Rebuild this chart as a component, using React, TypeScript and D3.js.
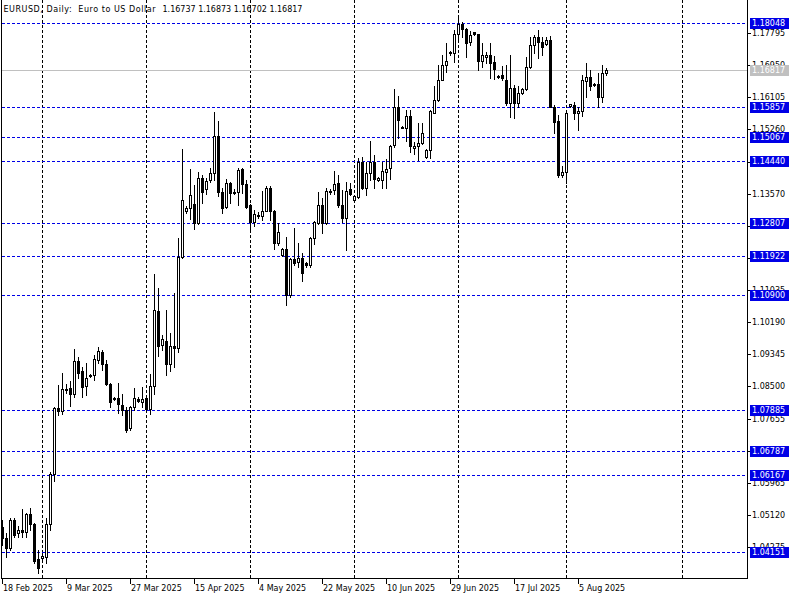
import React from "react";
import * as d3 from "d3";

const opens = [
  1.0480, 1.0451, 1.0425, 1.0499, 1.0464, 1.0472, 1.0466, 1.0514, 1.0488, 1.0396,
  1.0398, 1.0401, 1.0488, 1.0620, 1.0793, 1.0786, 1.0840, 1.0846, 1.0830, 1.0917,
  1.0891, 1.0851, 1.0878, 1.0880, 1.0920, 1.0941, 1.0909, 1.0857, 1.0817, 1.0820,
  1.0801, 1.0788, 1.0740, 1.0795, 1.0818, 1.0809, 1.0819, 1.0791, 1.0852, 1.1049,
  1.0960, 1.0970, 1.0910, 1.0955, 1.0950, 1.1191, 1.1310, 1.1319, 1.1329, 1.1280,
  1.1398, 1.1369, 1.1393, 1.1411, 1.1509, 1.1362, 1.1322, 1.1385, 1.1359, 1.1361,
  1.1422, 1.1382, 1.1327, 1.1283, 1.1298, 1.1298, 1.1311, 1.1372, 1.1311, 1.1227,
  1.1196, 1.1211, 1.1091, 1.1185, 1.1177, 1.1188, 1.1175, 1.1168, 1.1240, 1.1280,
  1.1327, 1.1280, 1.1360, 1.1366, 1.1384, 1.1327, 1.1292, 1.1369, 1.1339, 1.1348,
  1.1441, 1.1373, 1.1412, 1.1441, 1.1393, 1.1393, 1.1413, 1.1424, 1.1485, 1.1586,
  1.1532, 1.1529, 1.1560, 1.1478, 1.1481, 1.1491, 1.1454, 1.1471, 1.1570, 1.1602,
  1.1656, 1.1695, 1.1730, 1.1728, 1.1777, 1.1803, 1.1791, 1.1757, 1.1781, 1.1776,
  1.1707, 1.1716, 1.1722, 1.1703, 1.1667, 1.1669, 1.1656, 1.1596, 1.1634, 1.1595,
  1.1621, 1.1631, 1.1689, 1.1748, 1.1768, 1.1755, 1.1750, 1.1761, 1.1586, 1.1548,
  1.1406, 1.1415, 1.1588, 1.1590, 1.1568, 1.1574, 1.1654, 1.1665, 1.1643, 1.1645,
  1.1612, 1.16737,
];
const highs = [
  1.0499, 1.0464, 1.0505, 1.0505, 1.0483, 1.0528, 1.0517, 1.0530, 1.0490, 1.0420,
  1.0412, 1.0504, 1.0625, 1.0796, 1.0854, 1.0885, 1.0856, 1.0864, 1.0948, 1.0928,
  1.0901, 1.0912, 1.0882, 1.0933, 1.0954, 1.0946, 1.0920, 1.0860, 1.0823, 1.0859,
  1.0830, 1.0796, 1.0799, 1.0845, 1.0822, 1.0848, 1.0827, 1.0882, 1.1146, 1.1110,
  1.0985, 1.1050, 1.0990, 1.1096, 1.1241, 1.1474, 1.1325, 1.1421, 1.1380, 1.1414,
  1.1406, 1.1398, 1.1424, 1.1572, 1.1547, 1.1371, 1.1395, 1.1388, 1.1368, 1.1424,
  1.1424, 1.1393, 1.1330, 1.1314, 1.1308, 1.1364, 1.1377, 1.1377, 1.1313, 1.1280,
  1.1214, 1.1244, 1.1188, 1.1266, 1.1228, 1.1201, 1.1178, 1.1244, 1.1285, 1.1362,
  1.1345, 1.1372, 1.1370, 1.1417, 1.1406, 1.1366, 1.1388, 1.1384, 1.1353, 1.1450,
  1.1454, 1.1441, 1.1495, 1.1459, 1.1402, 1.1441, 1.1448, 1.1485, 1.1632, 1.1614,
  1.1536, 1.1577, 1.1577, 1.1493, 1.1542, 1.1542, 1.1474, 1.1577, 1.1641, 1.1696,
  1.1722, 1.1754, 1.1733, 1.1788, 1.1827, 1.1809, 1.1793, 1.1786, 1.1782, 1.1778,
  1.1752, 1.1730, 1.1752, 1.1720, 1.1670, 1.1693, 1.1696, 1.1721, 1.1643, 1.1640,
  1.1634, 1.1717, 1.1770, 1.1774, 1.1788, 1.1768, 1.1770, 1.1771, 1.1590, 1.1564,
  1.1430, 1.1572, 1.1594, 1.1597, 1.1586, 1.1670, 1.1700, 1.1682, 1.1648, 1.1674,
  1.1695, 1.16873,
];
const lows = [
  1.0433, 1.0401, 1.0420, 1.0454, 1.0454, 1.0454, 1.0454, 1.0472, 1.0386, 1.0359,
  1.0396, 1.0386, 1.0472, 1.0600, 1.0776, 1.0778, 1.0832, 1.0799, 1.0822, 1.0872,
  1.0822, 1.0828, 1.0875, 1.0867, 1.0911, 1.0893, 1.0854, 1.0796, 1.0814, 1.0780,
  1.0775, 1.0730, 1.0735, 1.0788, 1.0808, 1.0796, 1.0786, 1.0777, 1.0830, 1.0930,
  1.0945, 1.0880, 1.0890, 1.0900, 1.0940, 1.1187, 1.1305, 1.1291, 1.1264, 1.1278,
  1.1332, 1.1356, 1.1388, 1.1393, 1.1350, 1.1307, 1.1319, 1.1332, 1.1355, 1.1327,
  1.1359, 1.1319, 1.1265, 1.1272, 1.1293, 1.1288, 1.1310, 1.1288, 1.1211, 1.1222,
  1.1193, 1.1064, 1.1084, 1.1170, 1.1165, 1.1128, 1.1165, 1.1165, 1.1225, 1.1278,
  1.1254, 1.1278, 1.1355, 1.1355, 1.1322, 1.1283, 1.1210, 1.1353, 1.1336, 1.1346,
  1.1368, 1.1353, 1.1393, 1.1371, 1.1390, 1.1371, 1.1371, 1.1395, 1.1480, 1.1503,
  1.1529, 1.1495, 1.1467, 1.1461, 1.1445, 1.1488, 1.1451, 1.1452, 1.1569, 1.1600,
  1.1655, 1.1678, 1.1722, 1.1704, 1.1757, 1.1770, 1.1717, 1.1748, 1.1775, 1.1682,
  1.1691, 1.1700, 1.1660, 1.1658, 1.1660, 1.1656, 1.1590, 1.1559, 1.1555, 1.1586,
  1.1620, 1.1629, 1.1687, 1.1726, 1.1713, 1.1722, 1.1748, 1.1585, 1.1517, 1.1400,
  1.1401, 1.1385, 1.1585, 1.1553, 1.1525, 1.1561, 1.1611, 1.1630, 1.1640, 1.1586,
  1.1599, 1.16702,
];
const closes = [
  1.0451, 1.0425, 1.0499, 1.0459, 1.0472, 1.0466, 1.0514, 1.0488, 1.0391, 1.0373,
  1.0404, 1.0488, 1.0620, 1.0793, 1.0785, 1.0843, 1.0844, 1.0830, 1.0917, 1.0885,
  1.0849, 1.0872, 1.0880, 1.0922, 1.0943, 1.0909, 1.0857, 1.0809, 1.0819, 1.0804,
  1.0788, 1.0736, 1.0796, 1.0819, 1.0812, 1.0818, 1.0791, 1.0852, 1.1050, 1.0955,
  1.0975, 1.0910, 1.0955, 1.0950, 1.1191, 1.1340, 1.1320, 1.1353, 1.1280, 1.1398,
  1.1361, 1.1390, 1.1411, 1.1509, 1.1362, 1.1318, 1.1385, 1.1359, 1.1362, 1.1419,
  1.1382, 1.1322, 1.1283, 1.1303, 1.1302, 1.1311, 1.1373, 1.1312, 1.1227, 1.1256,
  1.1211, 1.1091, 1.1185, 1.1175, 1.1188, 1.1149, 1.1168, 1.1240, 1.1283, 1.1327,
  1.1280, 1.1364, 1.1365, 1.1383, 1.1327, 1.1292, 1.1365, 1.1356, 1.1350, 1.1441,
  1.1371, 1.1412, 1.1441, 1.1395, 1.1397, 1.1417, 1.1422, 1.1483, 1.1586, 1.1551,
  1.1533, 1.1560, 1.1481, 1.1482, 1.1491, 1.1516, 1.1471, 1.1574, 1.1602, 1.1656,
  1.1695, 1.1706, 1.1726, 1.1777, 1.1803, 1.1790, 1.1754, 1.1774, 1.1776, 1.1707,
  1.1722, 1.1722, 1.1700, 1.1684, 1.1664, 1.1660, 1.1596, 1.1634, 1.1595, 1.1621,
  1.1631, 1.1689, 1.1748, 1.1768, 1.1755, 1.1742, 1.1761, 1.1586, 1.1546, 1.1406,
  1.1415, 1.1568, 1.1592, 1.1568, 1.1574, 1.1656, 1.1665, 1.1640, 1.1645, 1.1612,
  1.1674, 1.16817,
];

const priceTicks = [
  "1.04275", "1.05120", "1.05965", "1.06810", "1.07655", "1.08500", "1.09345",
  "1.10190", "1.11035", "1.11880", "1.12725", "1.13570", "1.14415", "1.15260",
  "1.16105", "1.16950", "1.17795",
];
const levelLines = [
  1.18048, 1.15857, 1.15067, 1.1444, 1.12807, 1.11922, 1.109, 1.07885, 1.06787,
  1.06167, 1.04151,
];
const currentPrice = 1.16817;
const dateLabels = [
  "18 Feb 2025", "9 Mar 2025", "27 Mar 2025", "15 Apr 2025", "4 May 2025",
  "22 May 2025", "10 Jun 2025", "29 Jun 2025", "17 Jul 2025", "5 Aug 2025",
];
const dateLabelBars = [0, 16, 32, 48, 64, 80, 96, 112, 128, 144];
const monthGridBars = [10, 36, 62, 88, 114, 141, 170];
const headerTitle = "EURUSD, Daily:  Euro to US Dollar";
const headerQuote = "1.16737 1.16873 1.16702 1.16817";

const FONT = "'DejaVu Sans', sans-serif";

export default function App() {
  const W = 800;
  const H = 600;
  const axisX = 747.5;
  const bottomY = 578.5;
  const x = d3.scaleLinear().domain([0, 1]).range([2.5, 6.5]);
  const y = d3.scaleLinear().domain([1.04275, 1.17795]).range([547, 33]);
  const py = (v: number) => Math.round(y(v)) + 0.5;

  return (
    <svg
      width={W}
      height={H}
      style={{ position: "absolute", left: 0, top: 0, display: "block" }}
      shapeRendering="crispEdges"
    >
      <rect x={0} y={0} width={W} height={H} fill="#ffffff" />
      <defs>
        <clipPath id="plot">
          <rect x={2} y={0} width={axisX - 2} height={bottomY} />
        </clipPath>
      </defs>
      <g clipPath="url(#plot)">
        {monthGridBars.map((b, k) => (
          <line
            key={"g" + k}
            x1={x(b)}
            x2={x(b)}
            y1={0}
            y2={bottomY}
            stroke="#000000"
            strokeDasharray="3,2"
          />
        ))}
        {levelLines.map((v, k) => (
          <line
            key={"l" + k}
            x1={2}
            x2={axisX}
            y1={py(v)}
            y2={py(v)}
            stroke="#0000e6"
            strokeDasharray="3,2"
          />
        ))}
        <line x1={2} x2={axisX} y1={py(currentPrice)} y2={py(currentPrice)} stroke="#c0c0c0" />
        {opens.map((o, i) => {
          const c = closes[i];
          const cx = x(i);
          const yH = Math.round(y(highs[i]));
          const yL = Math.round(y(lows[i]));
          const yTop = Math.round(y(Math.max(o, c)));
          const yBot = Math.round(y(Math.min(o, c)));
          const bull = c >= o;
          return (
            <g key={"c" + i}>
              <rect x={cx - 0.5} y={yH} width={1} height={Math.max(1, yL - yH + 1)} fill="#000" />
              {bull ? (
                <rect
                  x={cx - 1}
                  y={yTop + 0.5}
                  width={2}
                  height={Math.max(1, yBot - yTop)}
                  fill="#ffffff"
                  stroke="#000000"
                  strokeWidth={1}
                />
              ) : (
                <rect
                  x={cx - 1.5}
                  y={yTop}
                  width={3}
                  height={Math.max(1, yBot - yTop + 1)}
                  fill="#000000"
                />
              )}
            </g>
          );
        })}
      </g>
      {/* frame */}
      <line x1={1.5} x2={1.5} y1={0} y2={bottomY} stroke="#000" />
      <line x1={1.5} x2={axisX} y1={bottomY} y2={bottomY} stroke="#000" />
      <line x1={axisX} x2={axisX} y1={0} y2={bottomY} stroke="#000" />
      {/* price ticks */}
      {priceTicks.map((t, k) => {
        const yy = py(+t);
        return (
          <g key={"pt" + k}>
            <line x1={axisX} x2={axisX + 3} y1={yy} y2={yy} stroke="#000" />
            <text
              x={752}
              y={yy}
              dominantBaseline="central"
              fontFamily={FONT}
              fontSize={8}
              fill="#000"
            >
              {t}
            </text>
          </g>
        );
      })}
      {levelLines.map((v, k) => {
        const yy = py(v);
        return (
          <g key={"lb" + k}>
            <rect x={750} y={yy - 5.5} width={39} height={11} fill="#0000e6" />
            <text
              x={752}
              y={yy}
              dominantBaseline="central"
              fontFamily={FONT}
              fontSize={8}
              fill="#ffffff"
            >
              {v.toFixed(5)}
            </text>
          </g>
        );
      })}
      <g>
        <rect x={750} y={py(currentPrice) - 5.5} width={39} height={11} fill="#c0c0c0" />
        <text
          x={752}
          y={py(currentPrice)}
          dominantBaseline="central"
          fontFamily={FONT}
          fontSize={8}
          fill="#ffffff"
        >
          {currentPrice.toFixed(5)}
        </text>
      </g>
      {/* date axis */}
      {dateLabelBars.map((b, k) => (
        <g key={"d" + k}>
          <line x1={x(b)} x2={x(b)} y1={bottomY} y2={bottomY + 5} stroke="#000" />
          <text x={x(b) + 0.5} y={591} fontFamily={FONT} fontSize={8} fill="#000">
            {dateLabels[k]}
          </text>
        </g>
      ))}
      <text
        x={3.5}
        y={12}
        fontFamily={FONT}
        fontSize={8}
        fill="#000"
        textLength={152}
        lengthAdjust="spacing"
        style={{ whiteSpace: "pre" }}
      >
        {headerTitle}
      </text>
      <text x={162.5} y={12} fontFamily={FONT} fontSize={8} fill="#000">
        {headerQuote}
      </text>
    </svg>
  );
}
